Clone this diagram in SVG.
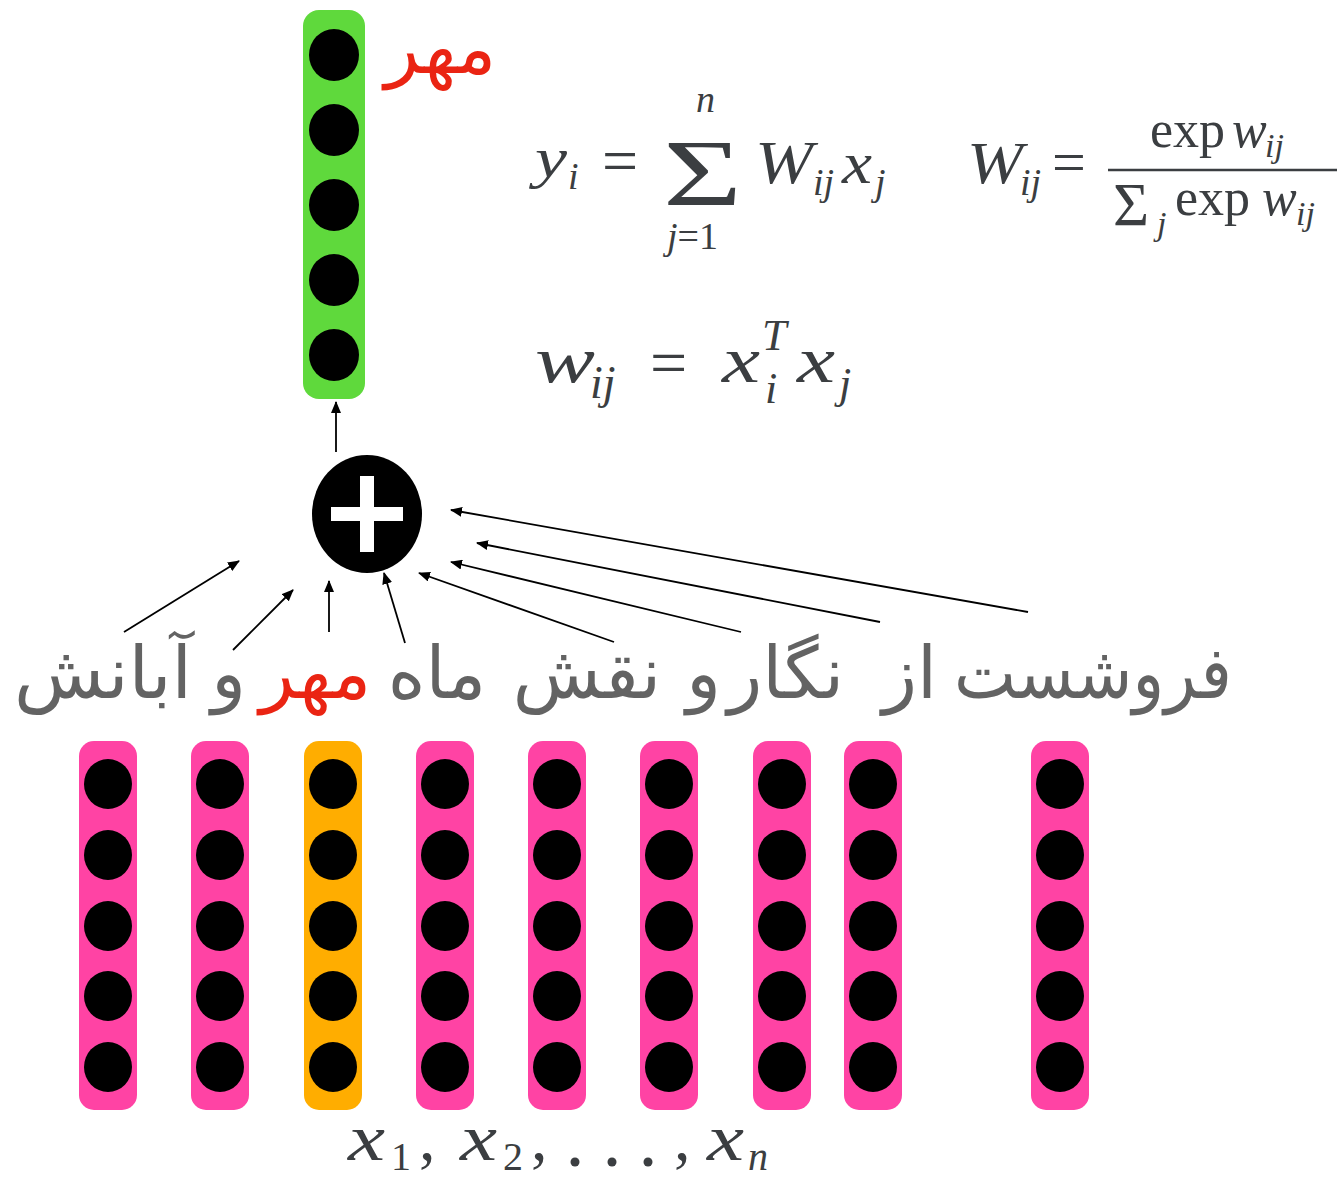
<svg xmlns="http://www.w3.org/2000/svg" width="1341" height="1180" viewBox="0 0 1341 1180">
<style>
.pink{fill:#ff43a4}
.orange{fill:#ffad00}
.green{fill:#5fd93c}
.dot{fill:#000}
.fa{font-family:"DejaVu Sans",sans-serif;font-size:72px;fill:#636363}
.red{fill:#ea2413}
.m{font-family:"Liberation Serif",serif;fill:#3b3e41}
.mi{font-family:"Liberation Serif",serif;font-style:italic;fill:#3b3e41}
.conn line{stroke:#000;stroke-width:1.8;fill:none}
</style>
<defs>
<marker id="ah" viewBox="0 0 12 10" refX="11" refY="5" markerWidth="12" markerHeight="10" orient="auto" markerUnits="userSpaceOnUse"><path d="M0,0 L12,5 L0,10 z" fill="#000"/></marker>
<g id="dots5">
<ellipse cx="0" cy="0" rx="24" ry="25" class="dot"/>
<ellipse cx="0" cy="71" rx="24" ry="25" class="dot"/>
<ellipse cx="0" cy="142" rx="24" ry="25" class="dot"/>
<ellipse cx="0" cy="212" rx="24" ry="25" class="dot"/>
<ellipse cx="0" cy="283" rx="24" ry="25" class="dot"/>
</g>
</defs>
<rect width="1341" height="1180" fill="#fff"/>

<g id="output">
<rect x="303" y="10" width="62" height="389" rx="16" class="green"/>
<ellipse cx="334" cy="55" rx="25" ry="26" class="dot"/>
<ellipse cx="334" cy="130" rx="25" ry="26" class="dot"/>
<ellipse cx="334" cy="205" rx="25" ry="26" class="dot"/>
<ellipse cx="334" cy="280" rx="25" ry="26" class="dot"/>
<ellipse cx="334" cy="355" rx="25" ry="26" class="dot"/>
<text x="496" y="73" text-anchor="end" class="fa red" font-size="63">مهر</text>
</g>

<g id="sum">
<ellipse cx="367" cy="514" rx="55" ry="59" fill="#000"/>
<rect x="331" y="507" width="72" height="14" fill="#fff"/>
<rect x="360" y="476" width="14" height="76" fill="#fff"/>
</g>

<g id="inputs">
<g id="col1"><rect x="79" y="741" width="58" height="369" rx="15" class="pink"/><use href="#dots5" x="108" y="784"/></g>
<g id="col2"><rect x="191" y="741" width="58" height="369" rx="15" class="pink"/><use href="#dots5" x="220" y="784"/></g>
<g id="col3"><rect x="304" y="741" width="58" height="369" rx="15" class="orange"/><use href="#dots5" x="333" y="784"/></g>
<g id="col4"><rect x="416" y="741" width="58" height="369" rx="15" class="pink"/><use href="#dots5" x="445" y="784"/></g>
<g id="col5"><rect x="528" y="741" width="58" height="369" rx="15" class="pink"/><use href="#dots5" x="557" y="784"/></g>
<g id="col6"><rect x="640" y="741" width="58" height="369" rx="15" class="pink"/><use href="#dots5" x="669" y="784"/></g>
<g id="col7"><rect x="753" y="741" width="58" height="369" rx="15" class="pink"/><use href="#dots5" x="782" y="784"/></g>
<g id="col8"><rect x="844" y="741" width="58" height="369" rx="15" class="pink"/><use href="#dots5" x="873" y="784"/></g>
<g id="col9"><rect x="1031" y="741" width="58" height="369" rx="15" class="pink"/><use href="#dots5" x="1060" y="784"/></g>
</g>

<g id="sentence">
<text x="1232" y="698" text-anchor="end" class="fa" textLength="278" lengthAdjust="spacingAndGlyphs">فروشست</text>
<text x="937" y="698" text-anchor="end" class="fa">از</text>
<text x="844" y="698" text-anchor="end" class="fa">نگار</text>
<text x="721" y="698" text-anchor="end" class="fa">و</text>
<text x="661" y="698" text-anchor="end" class="fa">نقش</text>
<text x="486" y="698" text-anchor="end" class="fa">ماه</text>
<text x="371" y="698" text-anchor="end" class="fa red">مهر</text>
<text x="246" y="698" text-anchor="end" class="fa">و</text>
<text x="192" y="698" text-anchor="end" class="fa" textLength="178" lengthAdjust="spacingAndGlyphs">آبانش</text>
</g>

<g class="conn" id="connectors">
<line x1="336" y1="452" x2="336" y2="402" marker-end="url(#ah)"/>
<line x1="124" y1="632" x2="239" y2="561" marker-end="url(#ah)"/>
<line x1="233" y1="650" x2="293" y2="590" marker-end="url(#ah)"/>
<line x1="329" y1="632" x2="329" y2="581" marker-end="url(#ah)"/>
<line x1="405" y1="643" x2="384" y2="573" marker-end="url(#ah)"/>
<line x1="614" y1="642" x2="419" y2="573" marker-end="url(#ah)"/>
<line x1="741" y1="632" x2="451" y2="562" marker-end="url(#ah)"/>
<line x1="880" y1="622" x2="477" y2="543" marker-end="url(#ah)"/>
<line x1="1028" y1="612" x2="451" y2="510" marker-end="url(#ah)"/>
</g>

<g id="formula1">
<text x="535" y="177" class="mi" font-size="58" textLength="32" lengthAdjust="spacingAndGlyphs">y</text>
<text x="568" y="189" class="mi" font-size="38">i</text>
<text x="602" y="182" class="m" font-size="64">=</text>
<text x="663" y="206" class="m" font-size="96" textLength="79" lengthAdjust="spacingAndGlyphs">Σ</text>
<text x="696" y="112" class="mi" font-size="38">n</text>
<text x="667" y="249" class="mi" font-size="38">j<tspan class="m" font-style="normal">=1</tspan></text>
<text x="755" y="183" class="mi" font-size="62" textLength="58" lengthAdjust="spacingAndGlyphs">W</text>
<text x="813" y="195" class="mi" font-size="38">ij</text>
<text x="842" y="183" class="mi" font-size="60" textLength="30" lengthAdjust="spacingAndGlyphs">x</text>
<text x="875" y="195" class="mi" font-size="38">j</text>
</g>

<g id="formula2">
<text x="967" y="183" class="mi" font-size="60" textLength="56" lengthAdjust="spacingAndGlyphs">W</text>
<text x="1020" y="195" class="mi" font-size="38">ij</text>
<text x="1052" y="182" class="m" font-size="60">=</text>
<line x1="1108" y1="170" x2="1337" y2="170" stroke="#3b3e41" stroke-width="2.5"/>
<text x="1150" y="147" class="m" font-size="52">exp</text>
<text x="1232" y="147" class="mi" font-size="52">w</text>
<text x="1265" y="157" class="mi" font-size="34">ij</text>
<text x="1113" y="225" class="m" font-size="62">Σ</text>
<text x="1157" y="235" class="mi" font-size="34">j</text>
<text x="1175" y="215" class="m" font-size="52">exp</text>
<text x="1262" y="215" class="mi" font-size="52">w</text>
<text x="1296" y="225" class="mi" font-size="34">ij</text>
</g>

<g id="formula3">
<text x="535" y="382" class="mi" font-size="66" textLength="60" lengthAdjust="spacingAndGlyphs">w</text>
<text x="590" y="398" class="mi" font-size="46">ij</text>
<text x="650" y="385" class="m" font-size="66">=</text>
<text x="722" y="382" class="mi" font-size="66" textLength="38" lengthAdjust="spacingAndGlyphs">x</text>
<text x="762" y="350" class="mi" font-size="44">T</text>
<text x="765" y="403" class="mi" font-size="44">i</text>
<text x="797" y="382" class="mi" font-size="66" textLength="38" lengthAdjust="spacingAndGlyphs">x</text>
<text x="839" y="398" class="mi" font-size="44">j</text>
</g>

<g id="formula4">
<text x="348" y="1160" class="mi" font-size="66" textLength="37" lengthAdjust="spacingAndGlyphs">x</text>
<text x="391" y="1170" class="m" font-size="40">1</text>
<text x="419" y="1160" class="m" font-size="66">,</text>
<text x="460" y="1160" class="mi" font-size="66" textLength="37" lengthAdjust="spacingAndGlyphs">x</text>
<text x="503" y="1170" class="m" font-size="40">2</text>
<text x="531" y="1160" class="m" font-size="66">,</text>
<circle cx="575" cy="1162" r="4.5" fill="#3b3e41"/>
<circle cx="612" cy="1162" r="4.5" fill="#3b3e41"/>
<circle cx="648" cy="1162" r="4.5" fill="#3b3e41"/>
<text x="674" y="1160" class="m" font-size="66">,</text>
<text x="707" y="1160" class="mi" font-size="66" textLength="37" lengthAdjust="spacingAndGlyphs">x</text>
<text x="748" y="1170" class="mi" font-size="40">n</text>
</g>
</svg>
